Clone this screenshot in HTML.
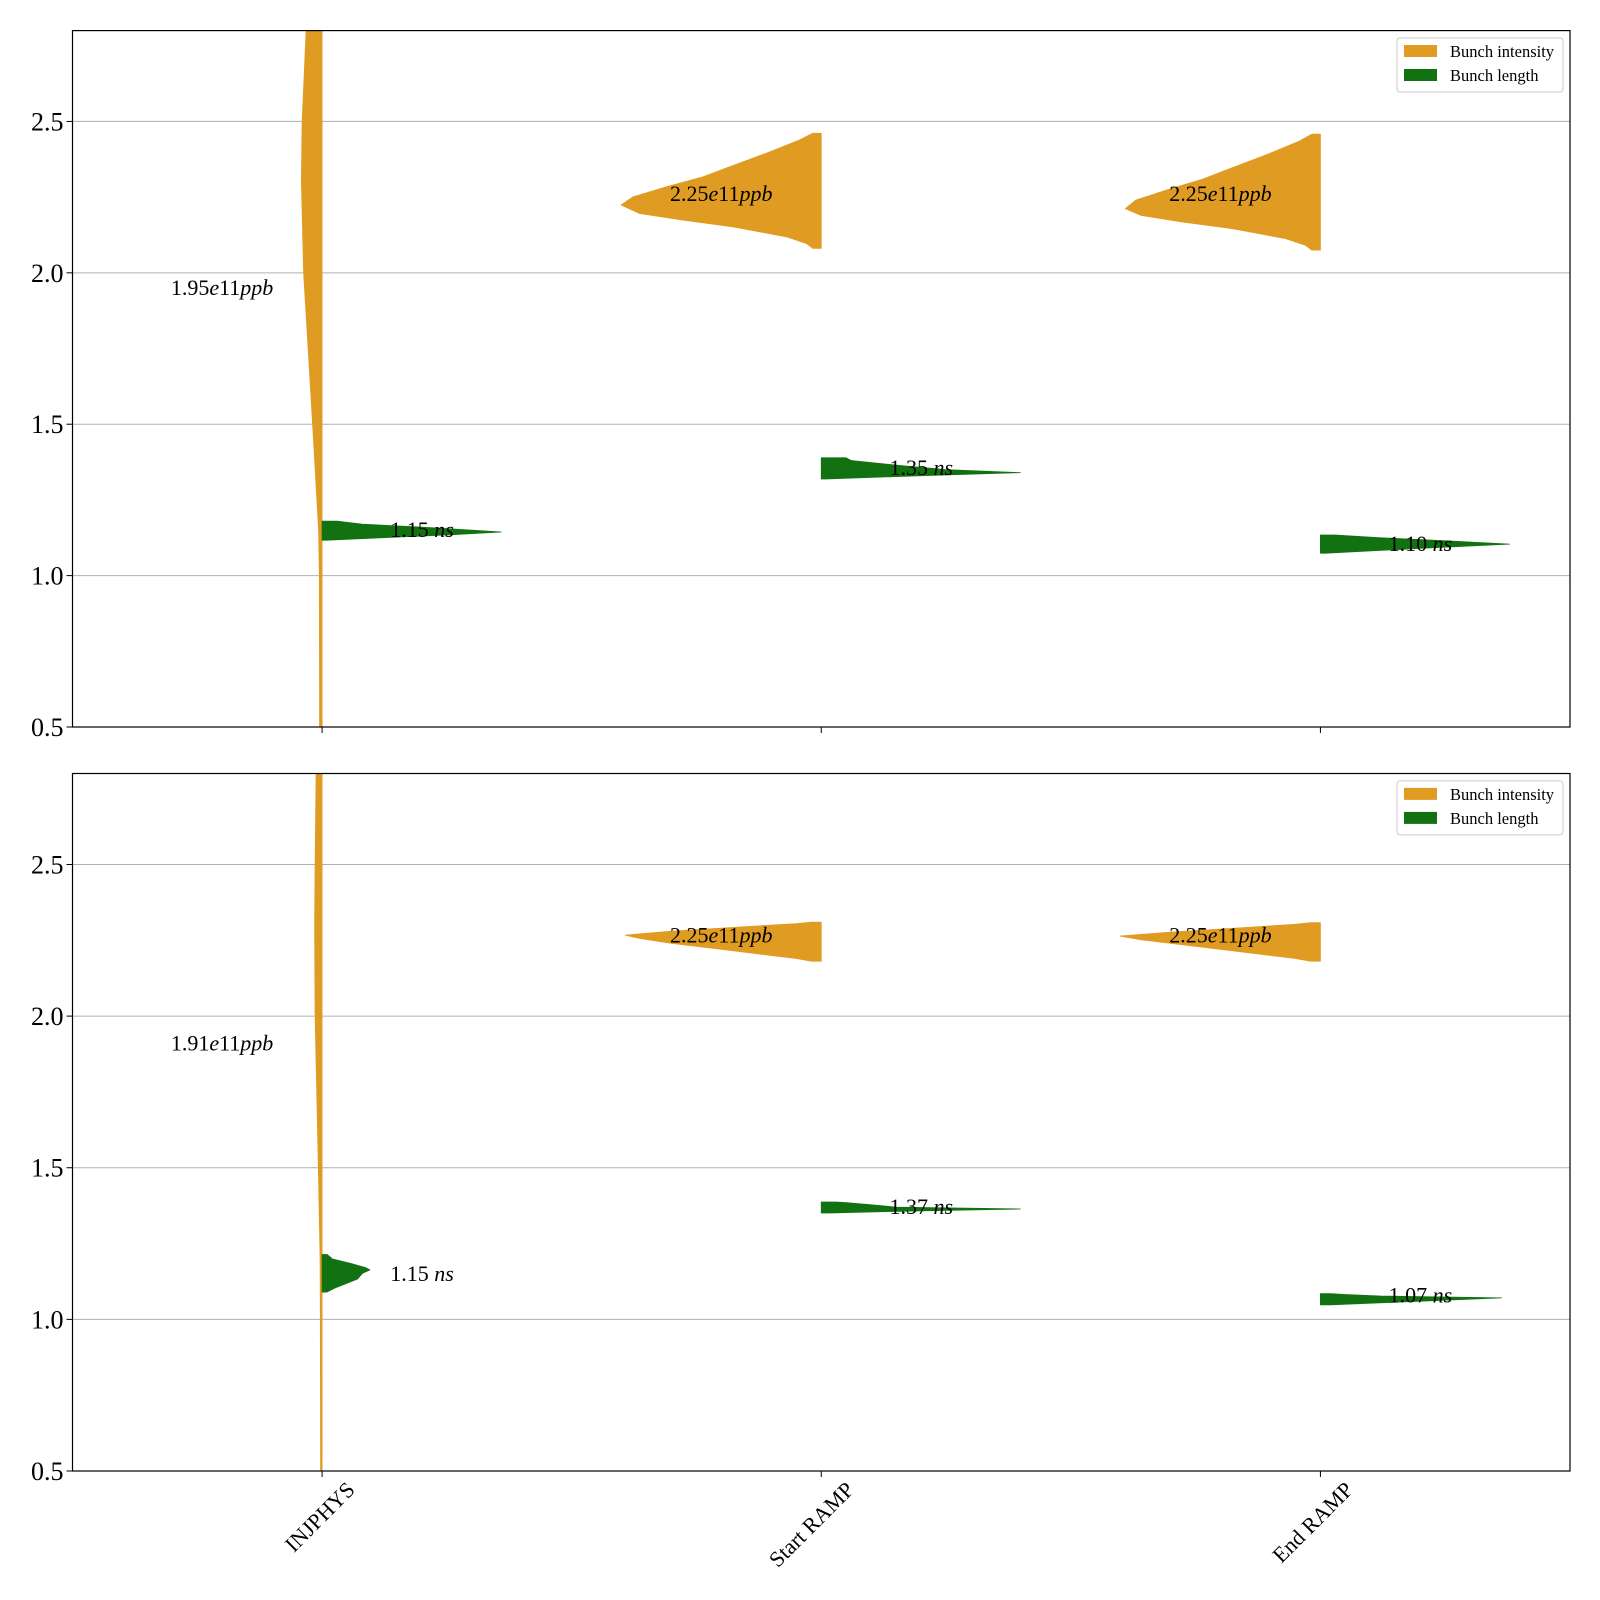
<!DOCTYPE html>
<html><head><meta charset="utf-8"><style>
body{margin:0;background:#fff}
svg{display:block;font-family:"Liberation Serif","DejaVu Serif",serif}
</style></head><body>
<svg id="chart" width="1600" height="1600" viewBox="0 0 1600 1600"></svg>
<script>
const categories = ["INJPHYS", "Start RAMP", "End RAMP"];
const yTicks = [0.5, 1.0, 1.5, 2.0, 2.5];
const yTickLabels = ["0.5", "1.0", "1.5", "2.0", "2.5"];
const topIntensityY = [
  [0.5, 1.0, 1.15, 1.5, 2.0, 2.3, 2.5, 2.8, 2.9],
  [2.081, 2.097, 2.119, 2.152, 2.174, 2.196, 2.224, 2.251, 2.284, 2.317, 2.35, 2.395, 2.439, 2.461],
  [2.075, 2.091, 2.113, 2.146, 2.168, 2.19, 2.212, 2.24, 2.275, 2.31, 2.345, 2.39, 2.435, 2.458]
];
const topIntensityW = [
  [0.005, 0.0055, 0.007, 0.019, 0.037, 0.0415, 0.040, 0.032, 0.03],
  [0.017, 0.030, 0.070, 0.177, 0.277, 0.364, 0.401, 0.377, 0.311, 0.237, 0.184, 0.110, 0.043, 0.017],
  [0.017, 0.030, 0.070, 0.177, 0.277, 0.360, 0.391, 0.370, 0.305, 0.235, 0.180, 0.108, 0.042, 0.017]
];
const topLengthY = [
  [1.117, 1.125, 1.135, 1.144, 1.15, 1.16, 1.17, 1.178, 1.18],
  [1.319, 1.33, 1.34, 1.35, 1.365, 1.38, 1.389],
  [1.074, 1.09, 1.104, 1.115, 1.125, 1.132, 1.134]
];
const topLengthW = [
  [0.01, 0.12, 0.26, 0.359, 0.30, 0.2, 0.08, 0.04, 0.03],
  [0.01, 0.2, 0.399, 0.25, 0.15, 0.06, 0.05],
  [0.01, 0.2, 0.379, 0.25, 0.12, 0.05, 0.03]
];
const botIntensityY = [
  [0.5, 1.0, 1.2, 1.5, 2.0, 2.3, 2.5, 2.8, 2.9],
  [2.181, 2.19, 2.20, 2.22, 2.24, 2.255, 2.267, 2.28, 2.295, 2.305, 2.31],
  [2.181, 2.19, 2.20, 2.22, 2.24, 2.252, 2.264, 2.277, 2.292, 2.303, 2.308]
];
const botIntensityW = [
  [0.003, 0.0035, 0.004, 0.0075, 0.014, 0.015, 0.014, 0.012, 0.011],
  [0.02, 0.05, 0.10, 0.20, 0.30, 0.36, 0.393, 0.30, 0.15, 0.05, 0.02],
  [0.02, 0.05, 0.10, 0.20, 0.30, 0.36, 0.401, 0.30, 0.15, 0.05, 0.02]
];
const botLengthY = [
  [1.090, 1.103, 1.118, 1.133, 1.152, 1.163, 1.170, 1.184, 1.199, 1.214],
  [1.351, 1.358, 1.364, 1.37, 1.378, 1.385, 1.387],
  [1.048, 1.06, 1.071, 1.077, 1.082, 1.085]
];
const botLengthW = [
  [0.01, 0.025, 0.048, 0.071, 0.081, 0.096, 0.088, 0.058, 0.021, 0.01],
  [0.02, 0.2, 0.399, 0.15, 0.10, 0.05, 0.03],
  [0.02, 0.2, 0.363, 0.12, 0.05, 0.02]
];
const topIntensityLabels = ["1.95", "2.25", "2.25"];
const topLengthLabels = ["1.15", "1.35", "1.10"];
const botIntensityLabels = ["1.91", "2.25", "2.25"];
const botLengthLabels = ["1.15", "1.37", "1.07"];
const topIntensityLabelY = [1.95, 2.26, 2.26];
const topLengthLabelY = [1.15, 1.355, 1.105];
const botIntensityLabelY = [1.91, 2.265, 2.265];
const botLengthLabelY = [1.15, 1.37, 1.078];

const NS = "http://www.w3.org/2000/svg";
const svg = document.getElementById("chart");
function mk(tag, attrs, parent) {
  const e = document.createElementNS(NS, tag);
  for (const k in attrs) e.setAttribute(k, attrs[k]);
  (parent || svg).appendChild(e);
  return e;
}
const L = 72.5, R = 1570;
const xs = c => L + (c + 0.5) * (R - L) / 3;
const orange = "#e09c22", green = "#127212";

function smoothPath(pts) {
  let d = "M" + pts[0][0] + "," + pts[0][1];
  for (let i = 1; i < pts.length; i++) d += " L" + pts[i][0] + "," + pts[i][1];
  return d + " Z";
}

function panel(top, bottom, name, iY, iW, lY, lW, iLab, lLab, iLY, lLY, showX) {
  const g = mk("g", {});
  
  
  const ys = v => bottom - (v - 0.5) * (bottom - top) / 2.3;
  const clipId = "clip-" + name;
  const cp = mk("clipPath", {id: clipId}, g);
  mk("rect", {x: L, y: top, width: R - L, height: bottom - top}, cp);
  yTicks.forEach((t, i) => {
    const gl = mk("line", {x1: L, x2: R, y1: ys(t), y2: ys(t), stroke: "#b0b0b0", "stroke-width": 1}, g);
    
    
    mk("line", {x1: L - 6, x2: L, y1: ys(t), y2: ys(t), stroke: "#000", "stroke-width": 1}, g);
    const tl = mk("text", {x: L - 9, y: ys(t) + 9, "text-anchor": "end", "font-size": 26, fill: "#000"}, g);
    tl.textContent = yTickLabels[i];
    
    
  });
  const vg = mk("g", {"clip-path": "url(#" + clipId + ")"}, g);
  categories.forEach((c, ci) => {
    const cx = xs(ci), unit = (R - L) / 3;
    const p1pts = [[cx, ys(iY[ci][0])]];
    iY[ci].forEach((y, k) => p1pts.push([cx - iW[ci][k] * unit, ys(y)]));
    p1pts.push([cx, ys(iY[ci][iY[ci].length - 1])]);
    const p1 = mk("path", {d: smoothPath(p1pts), fill: orange, stroke: orange, "stroke-width": 0.8, "stroke-linejoin": "round"}, vg);
    
    
    const p2pts = [[cx, ys(lY[ci][0])]];
    lY[ci].forEach((y, k) => p2pts.push([cx + lW[ci][k] * unit, ys(y)]));
    p2pts.push([cx, ys(lY[ci][lY[ci].length - 1])]);
    const p2 = mk("path", {d: smoothPath(p2pts), fill: green, stroke: green, "stroke-width": 0.8, "stroke-linejoin": "round"}, vg);
    
    
    const t1 = mk("text", {x: cx - 100, y: ys(iLY[ci]) + 7, "text-anchor": "middle", "font-size": 22, fill: "#000"}, g);
    t1.innerHTML = iLab[ci] + '<tspan font-style="italic">e</tspan>11<tspan font-style="italic">ppb</tspan>';
    
    
    const t2 = mk("text", {x: cx + 100, y: ys(lLY[ci]) + 7, "text-anchor": "middle", "font-size": 22, fill: "#000"}, g);
    t2.innerHTML = lLab[ci] + ' <tspan font-style="italic">ns</tspan>';
    
    
    mk("line", {x1: cx, x2: cx, y1: bottom, y2: bottom + 6, stroke: "#000", "stroke-width": 1}, g);
    if (showX) {
      const ax = cx + 34, ay = bottom + 20;
      const xl = mk("text", {x: ax, y: ay, "text-anchor": "end", "font-size": 22, fill: "#000",
        transform: "rotate(-45 " + ax + " " + ay + ")"}, g);
      xl.textContent = c;
      
      
    }
  });
  const fr = mk("rect", {x: L, y: top, width: R - L, height: bottom - top, fill: "none", stroke: "#000", "stroke-width": 1.2}, g);
  
  
  const lg = mk("g", {}, g);
  
  
  const oy = top - 30.6;
  mk("rect", {x: 1397, y: 38 + oy, width: 166, height: 54, rx: 3, fill: "#fff", "fill-opacity": 0.8, stroke: "#ccc"}, lg);
  mk("rect", {x: 1404, y: 45 + oy, width: 33, height: 12, fill: orange}, lg);
  mk("rect", {x: 1404, y: 69 + oy, width: 33, height: 12, fill: green}, lg);
  const e1 = mk("text", {x: 1450, y: 57 + oy, "font-size": 16.5, fill: "#000"}, lg);
  e1.textContent = "Bunch intensity";
  
  
  const e2 = mk("text", {x: 1450, y: 81 + oy, "font-size": 16.5, fill: "#000"}, lg);
  e2.textContent = "Bunch length";
  
  
}
panel(30.6, 727, "top-panel", topIntensityY, topIntensityW, topLengthY, topLengthW,
  topIntensityLabels, topLengthLabels, topIntensityLabelY, topLengthLabelY, false);
panel(773.5, 1471, "bottom-panel", botIntensityY, botIntensityW, botLengthY, botLengthW,
  botIntensityLabels, botLengthLabels, botIntensityLabelY, botLengthLabelY, true);
</script>
</body></html>
